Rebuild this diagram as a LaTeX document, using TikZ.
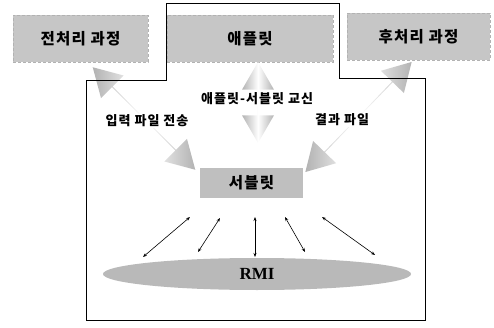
\documentclass[tikz,border=0pt]{standalone}
\usepackage{fontspec}
\setmainfont{Liberation Serif}
\newfontfamily\kr{Noto Sans CJK KR}[LetterSpace=8]
\usetikzlibrary{arrows.meta,shapes.arrows,shapes.geometric}
\begin{document}
\begin{tikzpicture}[x=1pt,y=-1pt,
 box/.style={draw=gray!60, densely dashed, line width=0.4pt, fill=gray!45, inner sep=0, font=\kr\bfseries\fontsize{15.5}{17}\selectfont},
 lab/.style={fill=white, inner sep=1pt, font=\kr\bfseries\fontsize{13}{15}\selectfont},
 fat/.style={double arrow, double arrow head extend=8pt, double arrow tip angle=60, minimum width=32pt, inner sep=0pt, shade, left color=gray!60, right color=gray!60, middle color=white},
 thinarr/.style={{Stealth[length=4pt,width=3pt]}-{Stealth[length=4pt,width=3pt]}, line width=0.6pt}]
\useasboundingbox (0,0) rectangle (494,328);
% top boxes
\node[box, minimum width=135pt, minimum height=47pt] (pre) at (80.5,38.5) {전처리 과정};
\node[box, minimum width=166pt, minimum height=47pt] (applet) at (250,38.5) {애플릿};
\node[box, minimum width=143pt, minimum height=47pt] (post) at (418.5,36.5) {후처리 과정};
% fat arrows
\node[fat, minimum height=145pt, rotate=-45] (fa1) at (144,118.5) {};
\node[fat, minimum height=81pt, rotate=90] (fa2) at (258,102.5) {};
\node[fat, minimum height=153pt, rotate=46] (fa3) at (358.5,117) {};
% labels
\node[lab] (l2) at (257,99) {애플릿-서블릿 교신};
\node[lab] (l1) at (147,121) {입력 파일 전송};
\node[lab] (l3) at (342,120) {결과 파일};
% servlet
\node[fill=gray!50, minimum width=103pt, minimum height=30pt, inner sep=0, font=\kr\bfseries\fontsize{15.5}{17}\selectfont] (servlet) at (251.5,183) {서블릿};
% RMI
\node[ellipse, fill=gray!55, minimum width=308pt, minimum height=32pt, inner sep=0, font=\bfseries\fontsize{17}{19}\selectfont] (rmi) at (257,274) {RMI};
% thin arrows
\coordinate (s1) at (190,217); \coordinate (r1) at (143,257);
\coordinate (s2) at (220,218); \coordinate (r2) at (198,252);
\coordinate (s3) at (255,217); \coordinate (r3) at (255,257);
\coordinate (s4) at (285,217); \coordinate (r4) at (305,252);
\coordinate (s5) at (322,217); \coordinate (r5) at (375,255);
\foreach \i in {1,...,5} \draw[thinarr] (s\i) -- (r\i);
% outline
\draw[line width=1pt] (166,4) -- (339,4) -- (339,79) -- (425,79) -- (425,320) -- (86,320) -- (86,81) -- (166,81) -- cycle;
\end{tikzpicture}
\end{document}
